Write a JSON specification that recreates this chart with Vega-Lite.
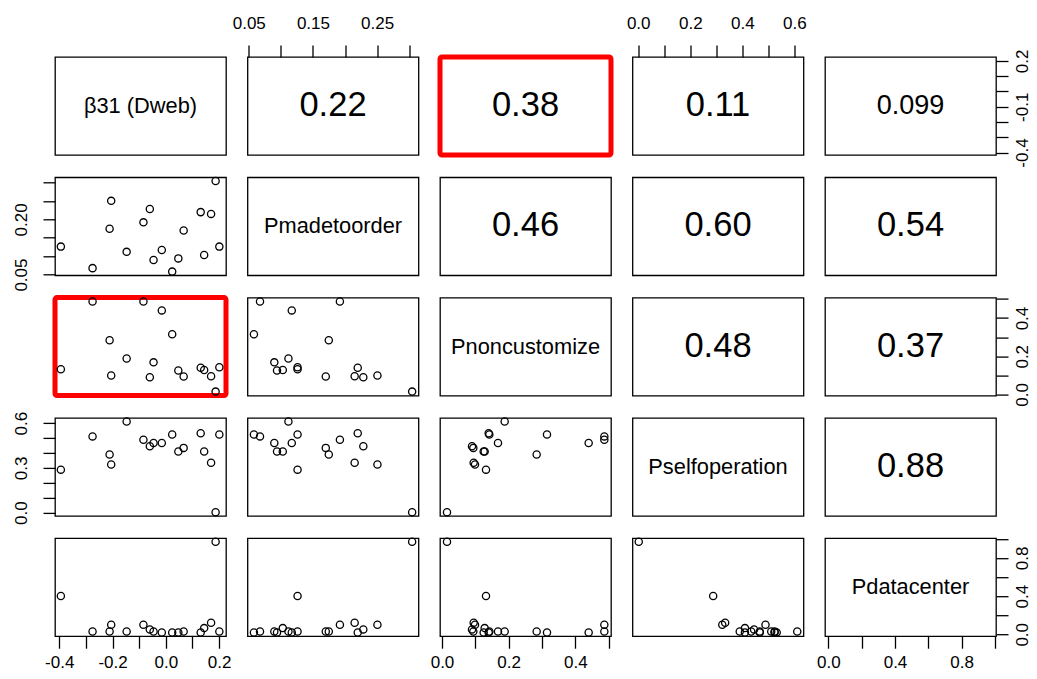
{
  "$schema": "https://vega.github.io/schema/vega-lite/v6.json",
  "background": "white",
  "padding": {"left": 11, "top": 13, "right": 5, "bottom": 5},
  "datasets": {
    "obs": [
      {"id": "A", "d": -0.394, "m": 0.126, "n": 0.132, "s": 0.288, "c": 0.401},
      {"id": "B", "d": -0.275, "m": 0.0675, "n": 0.487, "s": 0.511, "c": 0.030},
      {"id": "C", "d": -0.205, "m": 0.2505, "n": 0.099, "s": 0.323, "c": 0.100},
      {"id": "D", "d": -0.211, "m": 0.1747, "n": 0.284, "s": 0.390, "c": 0.030},
      {"id": "E", "d": -0.147, "m": 0.1118, "n": 0.188, "s": 0.611, "c": 0.030},
      {"id": "F", "d": -0.084, "m": 0.192, "n": 0.487, "s": 0.489, "c": 0.100},
      {"id": "G", "d": -0.060, "m": 0.2285, "n": 0.090, "s": 0.445, "c": 0.051},
      {"id": "H", "d": -0.046, "m": 0.0898, "n": 0.168, "s": 0.467, "c": 0.030},
      {"id": "I", "d": -0.015, "m": 0.117, "n": 0.440, "s": 0.467, "c": 0.019},
      {"id": "J", "d": 0.024, "m": 0.058, "n": 0.315, "s": 0.524, "c": 0.019},
      {"id": "K", "d": 0.047, "m": 0.094, "n": 0.125, "s": 0.410, "c": 0.019},
      {"id": "L", "d": 0.067, "m": 0.170, "n": 0.094, "s": 0.434, "c": 0.030},
      {"id": "M", "d": 0.131, "m": 0.2198, "n": 0.140, "s": 0.532, "c": 0.019},
      {"id": "N", "d": 0.144, "m": 0.103, "n": 0.128, "s": 0.410, "c": 0.065},
      {"id": "O", "d": 0.170, "m": 0.215, "n": 0.095, "s": 0.334, "c": 0.121},
      {"id": "P", "d": 0.187, "m": 0.3046, "n": 0.015, "s": 0.002, "c": 0.969},
      {"id": "Q", "d": 0.201, "m": 0.126, "n": 0.142, "s": 0.524, "c": 0.030}
    ],
    "cor": [
      {"pair": "d-m", "r": "0.22"},
      {"pair": "d-n", "r": "0.38"},
      {"pair": "d-s", "r": "0.11"},
      {"pair": "d-c", "r": "0.099"},
      {"pair": "m-n", "r": "0.46"},
      {"pair": "m-s", "r": "0.60"},
      {"pair": "m-c", "r": "0.54"},
      {"pair": "n-s", "r": "0.48"},
      {"pair": "n-c", "r": "0.37"},
      {"pair": "s-c", "r": "0.88"}
    ],
    "vars": [
      {"var": "d", "label": "β31 (Dweb)"},
      {"var": "m", "label": "Pmadetoorder"},
      {"var": "n", "label": "Pnoncustomize"},
      {"var": "s", "label": "Pselfoperation"},
      {"var": "c", "label": "Pdatacenter"}
    ]
  },
  "bounds": "flush",
  "columns": 5,
  "spacing": {"row": 22.3, "column": 21.5},
  "concat": [
    {"width": 171, "height": 98, "data": {"name": "vars"}, "transform": [{"filter": "datum.var=='d'"}],
     "mark": {"type": "text", "fontSize": 21.8},
     "encoding": {"text": {"field": "label"},
       "x": {"datum": 0.5, "type": "quantitative", "scale": {"domain": [0, 1]}, "axis": null},
       "y": {"datum": 0.5, "type": "quantitative", "scale": {"domain": [0, 1]}, "axis": null}}},
    {"width": 171, "height": 98, "data": {"name": "cor"}, "transform": [{"filter": "datum.pair=='d-m'"}],
     "mark": {"type": "text", "fontSize": 34.5},
     "encoding": {"text": {"field": "r"},
       "x": {"datum": 0.18125, "type": "quantitative", "scale": {"domain": [0.048, 0.3145], "nice": false, "zero": false},
         "axis": {"orient": "top", "title": null, "labelPadding": 13, "values": [0.05, 0.1, 0.15, 0.2, 0.25, 0.3], "format": ".2f",
           "labelExpr": "indexof([0.05,0.15,0.25], datum.value) >= 0 ? datum.label : ''"}},
       "y": {"datum": 0.5, "type": "quantitative", "scale": {"domain": [0, 1]}, "axis": null}}},
    {"width": 171, "height": 98, "view": {"stroke": "#FF0000", "strokeWidth": 5, "cornerRadius": 2}, "data": {"name": "cor"}, "transform": [{"filter": "datum.pair=='d-n'"}],
     "mark": {"type": "text", "fontSize": 34.5},
     "encoding": {"text": {"field": "r"},
       "x": {"datum": 0.5, "type": "quantitative", "scale": {"domain": [0, 1]}, "axis": null},
       "y": {"datum": 0.5, "type": "quantitative", "scale": {"domain": [0, 1]}, "axis": null}}},
    {"width": 171, "height": 98, "data": {"name": "cor"}, "transform": [{"filter": "datum.pair=='d-s'"}],
     "mark": {"type": "text", "fontSize": 34.5},
     "encoding": {"text": {"field": "r"},
       "x": {"datum": 0.3065, "type": "quantitative", "scale": {"domain": [-0.022, 0.635], "nice": false, "zero": false},
         "axis": {"orient": "top", "title": null, "labelPadding": 13, "values": [0, 0.1, 0.2, 0.3, 0.4, 0.5, 0.6], "format": ".1f",
           "labelExpr": "indexof([0,0.2,0.4,0.6], datum.value) >= 0 ? datum.label : ''"}},
       "y": {"datum": 0.5, "type": "quantitative", "scale": {"domain": [0, 1]}, "axis": null}}},
    {"width": 171, "height": 98, "data": {"name": "cor"}, "transform": [{"filter": "datum.pair=='d-c'"}],
     "mark": {"type": "text", "fontSize": 27},
     "encoding": {"text": {"field": "r"},
       "x": {"datum": 0.5, "type": "quantitative", "scale": {"domain": [0, 1]}, "axis": null},
       "y": {"datum": -0.095, "type": "quantitative", "scale": {"domain": [-0.416, 0.226], "nice": false, "zero": false},
         "axis": {"orient": "right", "title": null, "values": [-0.4, -0.3, -0.2, -0.1, 0, 0.1, 0.2], "format": ".1f",
           "labelAngle": 270, "labelAlign": "center", "labelBaseline": "top",
           "labelExpr": "indexof([-0.4,-0.1,0.2], datum.value) >= 0 ? replace(datum.label, '−', '-') : ''"}}}},

    {"width": 171, "height": 98, "data": {"name": "obs"}, "mark": "point",
     "encoding": {
       "x": {"field": "d", "type": "quantitative", "scale": {"domain": [-0.416, 0.226], "nice": false, "zero": false}, "axis": null},
       "y": {"field": "m", "type": "quantitative", "scale": {"domain": [0.048, 0.3145], "nice": false, "zero": false},
         "axis": {"orient": "left", "title": null, "labelPadding": 13, "values": [0.05, 0.1, 0.15, 0.2, 0.25, 0.3], "format": ".2f",
           "labelAngle": 270, "labelAlign": "center", "labelBaseline": "bottom",
           "labelExpr": "indexof([0.05,0.2], datum.value) >= 0 ? datum.label : ''"}}}},
    {"width": 171, "height": 98, "data": {"name": "vars"}, "transform": [{"filter": "datum.var=='m'"}],
     "mark": {"type": "text", "fontSize": 21.8},
     "encoding": {"text": {"field": "label"},
       "x": {"datum": 0.5, "type": "quantitative", "scale": {"domain": [0, 1]}, "axis": null},
       "y": {"datum": 0.5, "type": "quantitative", "scale": {"domain": [0, 1]}, "axis": null}}},
    {"width": 171, "height": 98, "data": {"name": "cor"}, "transform": [{"filter": "datum.pair=='m-n'"}],
     "mark": {"type": "text", "fontSize": 34.5},
     "encoding": {"text": {"field": "r"},
       "x": {"datum": 0.5, "type": "quantitative", "scale": {"domain": [0, 1]}, "axis": null},
       "y": {"datum": 0.5, "type": "quantitative", "scale": {"domain": [0, 1]}, "axis": null}}},
    {"width": 171, "height": 98, "data": {"name": "cor"}, "transform": [{"filter": "datum.pair=='m-s'"}],
     "mark": {"type": "text", "fontSize": 34.5},
     "encoding": {"text": {"field": "r"},
       "x": {"datum": 0.5, "type": "quantitative", "scale": {"domain": [0, 1]}, "axis": null},
       "y": {"datum": 0.5, "type": "quantitative", "scale": {"domain": [0, 1]}, "axis": null}}},
    {"width": 171, "height": 98, "data": {"name": "cor"}, "transform": [{"filter": "datum.pair=='m-c'"}],
     "mark": {"type": "text", "fontSize": 34.5},
     "encoding": {"text": {"field": "r"},
       "x": {"datum": 0.5, "type": "quantitative", "scale": {"domain": [0, 1]}, "axis": null},
       "y": {"datum": 0.5, "type": "quantitative", "scale": {"domain": [0, 1]}, "axis": null}}},

    {"width": 171, "height": 98, "view": {"stroke": "#FF0000", "strokeWidth": 5, "cornerRadius": 2}, "data": {"name": "obs"}, "mark": "point",
     "encoding": {
       "x": {"field": "d", "type": "quantitative", "scale": {"domain": [-0.416, 0.226], "nice": false, "zero": false}, "axis": null},
       "y": {"field": "n", "type": "quantitative", "scale": {"domain": [-0.006, 0.507], "nice": false, "zero": false}, "axis": null}}},
    {"width": 171, "height": 98, "data": {"name": "obs"}, "mark": "point",
     "encoding": {
       "x": {"field": "m", "type": "quantitative", "scale": {"domain": [0.048, 0.3145], "nice": false, "zero": false}, "axis": null},
       "y": {"field": "n", "type": "quantitative", "scale": {"domain": [-0.006, 0.507], "nice": false, "zero": false}, "axis": null}}},
    {"width": 171, "height": 98, "data": {"name": "vars"}, "transform": [{"filter": "datum.var=='n'"}],
     "mark": {"type": "text", "fontSize": 21.8},
     "encoding": {"text": {"field": "label"},
       "x": {"datum": 0.5, "type": "quantitative", "scale": {"domain": [0, 1]}, "axis": null},
       "y": {"datum": 0.5, "type": "quantitative", "scale": {"domain": [0, 1]}, "axis": null}}},
    {"width": 171, "height": 98, "data": {"name": "cor"}, "transform": [{"filter": "datum.pair=='n-s'"}],
     "mark": {"type": "text", "fontSize": 34.5},
     "encoding": {"text": {"field": "r"},
       "x": {"datum": 0.5, "type": "quantitative", "scale": {"domain": [0, 1]}, "axis": null},
       "y": {"datum": 0.5, "type": "quantitative", "scale": {"domain": [0, 1]}, "axis": null}}},
    {"width": 171, "height": 98, "data": {"name": "cor"}, "transform": [{"filter": "datum.pair=='n-c'"}],
     "mark": {"type": "text", "fontSize": 34.5},
     "encoding": {"text": {"field": "r"},
       "x": {"datum": 0.5, "type": "quantitative", "scale": {"domain": [0, 1]}, "axis": null},
       "y": {"datum": 0.2505, "type": "quantitative", "scale": {"domain": [-0.006, 0.507], "nice": false, "zero": false},
         "axis": {"orient": "right", "title": null, "values": [0, 0.1, 0.2, 0.3, 0.4, 0.5], "format": ".1f",
           "labelAngle": 270, "labelAlign": "center", "labelBaseline": "top",
           "labelExpr": "indexof([0,0.2,0.4], datum.value) >= 0 ? datum.label : ''"}}}},

    {"width": 171, "height": 98, "data": {"name": "obs"}, "mark": "point",
     "encoding": {
       "x": {"field": "d", "type": "quantitative", "scale": {"domain": [-0.416, 0.226], "nice": false, "zero": false}, "axis": null},
       "y": {"field": "s", "type": "quantitative", "scale": {"domain": [-0.022, 0.635], "nice": false, "zero": false},
         "axis": {"orient": "left", "title": null, "labelPadding": 13, "values": [0, 0.1, 0.2, 0.3, 0.4, 0.5, 0.6], "format": ".1f",
           "labelAngle": 270, "labelAlign": "center", "labelBaseline": "bottom",
           "labelExpr": "indexof([0,0.3,0.6], datum.value) >= 0 ? datum.label : ''"}}}},
    {"width": 171, "height": 98, "data": {"name": "obs"}, "mark": "point",
     "encoding": {
       "x": {"field": "m", "type": "quantitative", "scale": {"domain": [0.048, 0.3145], "nice": false, "zero": false}, "axis": null},
       "y": {"field": "s", "type": "quantitative", "scale": {"domain": [-0.022, 0.635], "nice": false, "zero": false}, "axis": null}}},
    {"width": 171, "height": 98, "data": {"name": "obs"}, "mark": "point",
     "encoding": {
       "x": {"field": "n", "type": "quantitative", "scale": {"domain": [-0.006, 0.507], "nice": false, "zero": false}, "axis": null},
       "y": {"field": "s", "type": "quantitative", "scale": {"domain": [-0.022, 0.635], "nice": false, "zero": false}, "axis": null}}},
    {"width": 171, "height": 98, "data": {"name": "vars"}, "transform": [{"filter": "datum.var=='s'"}],
     "mark": {"type": "text", "fontSize": 21.8},
     "encoding": {"text": {"field": "label"},
       "x": {"datum": 0.5, "type": "quantitative", "scale": {"domain": [0, 1]}, "axis": null},
       "y": {"datum": 0.5, "type": "quantitative", "scale": {"domain": [0, 1]}, "axis": null}}},
    {"width": 171, "height": 98, "data": {"name": "cor"}, "transform": [{"filter": "datum.pair=='s-c'"}],
     "mark": {"type": "text", "fontSize": 34.5},
     "encoding": {"text": {"field": "r"},
       "x": {"datum": 0.5, "type": "quantitative", "scale": {"domain": [0, 1]}, "axis": null},
       "y": {"datum": 0.5, "type": "quantitative", "scale": {"domain": [0, 1]}, "axis": null}}},

    {"width": 171, "height": 98, "data": {"name": "obs"}, "mark": "point",
     "encoding": {
       "x": {"field": "d", "type": "quantitative", "scale": {"domain": [-0.416, 0.226], "nice": false, "zero": false},
         "axis": {"orient": "bottom", "title": null, "values": [-0.4, -0.3, -0.2, -0.1, 0, 0.1, 0.2], "format": ".1f",
           "labelExpr": "indexof([-0.4,-0.2,0,0.2], datum.value) >= 0 ? replace(datum.label, '−', '-') : ''"}},
       "y": {"field": "c", "type": "quantitative", "scale": {"domain": [-0.02, 1.006], "nice": false, "zero": false}, "axis": null}}},
    {"width": 171, "height": 98, "data": {"name": "obs"}, "mark": "point",
     "encoding": {
       "x": {"field": "m", "type": "quantitative", "scale": {"domain": [0.048, 0.3145], "nice": false, "zero": false}, "axis": null},
       "y": {"field": "c", "type": "quantitative", "scale": {"domain": [-0.02, 1.006], "nice": false, "zero": false}, "axis": null}}},
    {"width": 171, "height": 98, "data": {"name": "obs"}, "mark": "point",
     "encoding": {
       "x": {"field": "n", "type": "quantitative", "scale": {"domain": [-0.006, 0.507], "nice": false, "zero": false},
         "axis": {"orient": "bottom", "title": null, "values": [0, 0.1, 0.2, 0.3, 0.4, 0.5], "format": ".1f",
           "labelExpr": "indexof([0,0.2,0.4], datum.value) >= 0 ? datum.label : ''"}},
       "y": {"field": "c", "type": "quantitative", "scale": {"domain": [-0.02, 1.006], "nice": false, "zero": false}, "axis": null}}},
    {"width": 171, "height": 98, "data": {"name": "obs"}, "mark": "point",
     "encoding": {
       "x": {"field": "s", "type": "quantitative", "scale": {"domain": [-0.022, 0.635], "nice": false, "zero": false}, "axis": null},
       "y": {"field": "c", "type": "quantitative", "scale": {"domain": [-0.02, 1.006], "nice": false, "zero": false}, "axis": null}}},
    {"width": 171, "height": 98, "data": {"name": "vars"}, "transform": [{"filter": "datum.var=='c'"}],
     "mark": {"type": "text", "fontSize": 21.8},
     "encoding": {"text": {"field": "label"},
       "x": {"datum": 0.493, "type": "quantitative", "scale": {"domain": [-0.02, 1.006], "nice": false, "zero": false},
         "axis": {"orient": "bottom", "title": null, "values": [0, 0.2, 0.4, 0.6, 0.8, 1.0], "format": ".1f",
           "labelExpr": "indexof([0,0.4,0.8], datum.value) >= 0 ? datum.label : ''"}},
       "y": {"datum": 0.493, "type": "quantitative", "scale": {"domain": [-0.02, 1.006], "nice": false, "zero": false},
         "axis": {"orient": "right", "title": null, "values": [0, 0.2, 0.4, 0.6, 0.8, 1.0], "format": ".1f",
           "labelAngle": 270, "labelAlign": "center", "labelBaseline": "top",
           "labelExpr": "indexof([0,0.4,0.8], datum.value) >= 0 ? datum.label : ''"}}}}
  ],
  "config": {
    "font": "Liberation Sans",
    "view": {"stroke": "black", "strokeWidth": 1.3, "fill": "white"},
    "point": {"shape": "circle", "filled": false, "color": "black", "size": 52, "strokeWidth": 1.3, "opacity": 1},
    "text": {"font": "Liberation Sans", "color": "black", "align": "center", "baseline": "middle"},
    "axis": {"domain": false, "grid": false, "ticks": true, "tickColor": "black", "tickSize": 12, "tickWidth": 1.3,
      "labelColor": "black", "labelFont": "Liberation Sans", "labelFontSize": 17, "labelPadding": 6,
      "labelOverlap": false, "labelFlush": false, "labelBound": false}
  }
}
